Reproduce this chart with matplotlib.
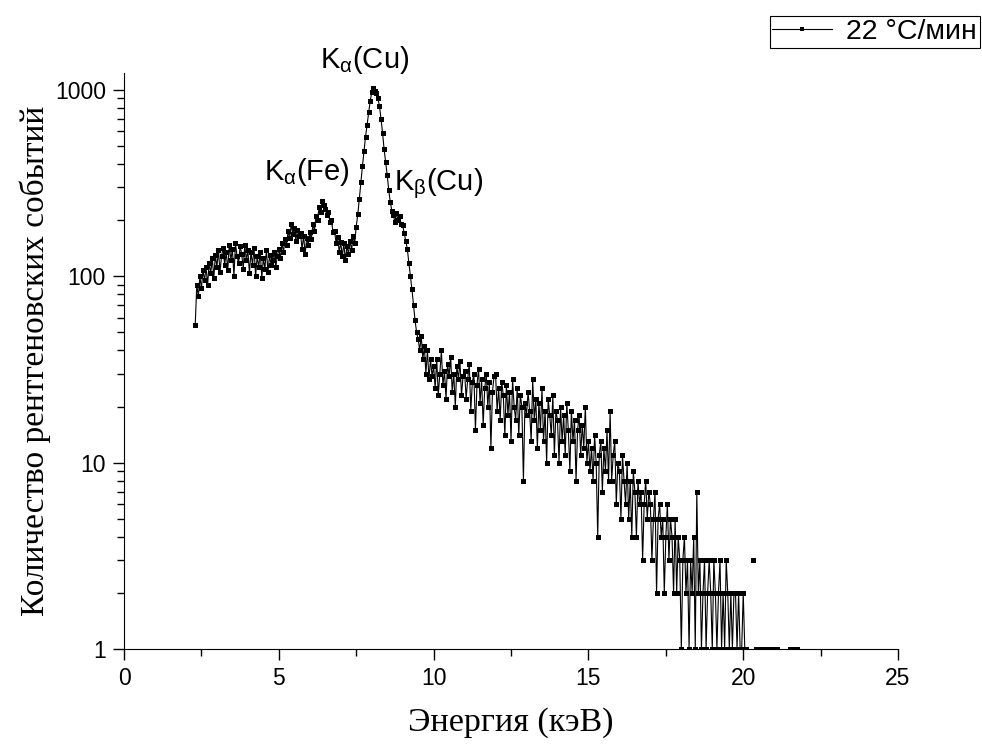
import numpy as np
import matplotlib
matplotlib.use("Agg")
import matplotlib.pyplot as plt
from matplotlib.ticker import FixedLocator, NullFormatter, LogLocator

# channel energies (keV), step 0.05
e_start = 2.30
e_step = 0.05

# counts 2.30 .. 7.45 keV
counts_low = [55, 90, 78, 100, 86, 108, 95, 112, 90, 118,
              104, 125, 98, 130, 112, 138, 106, 128, 142, 115,
              135, 108, 147, 122, 140, 100, 150, 128, 118, 145,
              132, 110, 148, 122, 138, 104, 135, 115, 142, 100,
              128, 112, 135, 98, 125, 110, 138, 105, 130, 115,
              122, 135, 112, 128, 140, 125, 150, 135, 158, 148,
              175, 160, 190, 168, 182, 155, 178, 165, 170, 140,
              165, 132, 160, 148, 172, 158, 190, 175, 210, 200,
              235, 220, 255, 240, 230, 212, 220, 195, 200, 172,
              175, 150, 162, 135, 152, 128, 150, 122, 145, 132,
              155, 138, 165, 150]
# counts 7.50 .. 9.95 keV (Cu K lines)
counts_cu = [185, 215, 260, 320, 390, 470, 560, 650, 760, 870,
             970, 1030, 990, 960, 900, 820, 700, 590, 480, 410,
             350, 290, 250, 225, 212, 195, 218, 200, 210, 190,
             188, 170, 155, 140, 118, 100, 85, 70, 58, 50,
             46, 40, 48, 36, 42, 30, 40, 28, 36, 29]
# counts 10.00 .. 14.95 keV
counts_mid = [33, 25, 36, 23, 30, 40, 26, 31, 22, 34, 29, 37, 24, 30, 20, 33, 28, 35, 23, 29,
              31, 22, 28, 34, 19, 27, 30, 15, 26, 32, 21, 28, 16, 25, 30, 20, 27, 12, 24, 29,
              30, 19, 25, 17, 27, 23, 14, 26, 18, 24, 13, 28, 20, 17, 25, 14, 23, 20, 8, 21,
              18, 24, 19, 13, 28, 17, 22, 12, 21, 15, 25, 13, 19, 10, 22, 18, 14, 23, 11, 19,
              17, 10, 20, 13, 18, 11, 21, 15, 9, 19, 13, 17, 8, 15, 18, 11, 16, 12, 20, 10]
# counts 15.00 .. 21.75 keV
counts_tail = [13, 9, 12, 8, 14, 10, 4, 11, 13, 7, 12, 9, 15, 8, 19, 8, 11, 13, 6, 10,
               9, 5, 11, 8, 6, 10, 5, 8, 4, 9, 7, 4, 8, 6, 7, 3, 6, 8, 5, 7,
               6, 3, 5, 7, 2, 5, 6, 4, 5, 2, 4, 6, 3, 5, 4, 2, 5, 2, 4, 3,
               1, 3, 4, 2, 3, 1, 3, 2, 4, 1, 7, 2, 3, 1, 2, 3, 1, 2, 3, 2,
               1, 3, 2, 1, 2, 3, 1, 2, 1, 3, 2, 1, 2, 1, 2, 2, 1, 2, 1, 1,
               2, 1, 1, 0, 0, 0, 3, 0, 1, 1, 1, 1, 0, 1, 1, 1, 0, 1, 1, 0,
               1, 1, 1, 0, 0, 0, 0, 0, 0, 0, 1, 1, 0, 0, 1, 1]

counts = np.array(counts_low + counts_cu + counts_mid + counts_tail, dtype=float)
energy = np.round(e_start + e_step * np.arange(len(counts)), 2)

labels = ["K$_{\\alpha}$(Cu)", "K$_{\\alpha}$(Fe)", "K$_{\\beta}$(Cu)"]
label_x = [7.78, 5.91, 10.15]
label_y = [1440, 361, 315]

sans = "Liberation Sans"
serif = "Liberation Serif"
plt.rcParams["mathtext.fontset"] = "custom"
plt.rcParams["mathtext.rm"] = sans
plt.rcParams["mathtext.it"] = sans

fig = plt.figure(figsize=(9.82, 7.44), dpi=100)
ax = fig.add_axes([0.1263, 0.1277, 0.7882, 0.7742])

ax.set_yscale("log", nonpositive="mask")
line, = ax.plot(energy, counts, color="black", lw=0.8, marker="s",
                markersize=3.6, markeredgewidth=0, label="22 °C/мин")

ax.set_xlim(0, 25)
ax.set_ylim(1, 1233)

ax.spines["top"].set_visible(False)
ax.spines["right"].set_visible(False)

ax.xaxis.set_major_locator(FixedLocator([0, 5, 10, 15, 20, 25]))
ax.xaxis.set_minor_locator(FixedLocator([2.5, 7.5, 12.5, 17.5, 22.5]))
ax.yaxis.set_major_locator(FixedLocator([1, 10, 100, 1000]))
ax.yaxis.set_minor_locator(LogLocator(base=10, subs=np.arange(2, 10)))
ax.yaxis.set_minor_formatter(NullFormatter())
ax.set_yticklabels(["1", "10", "100", "1000"])
ax.set_xticklabels(["0", "5", "10", "15", "20", "25"])

ax.tick_params(which="major", direction="out", length=8, width=1, labelsize=16.5, pad=5)
ax.tick_params(which="minor", direction="out", length=5, width=1)
for lab in ax.get_xticklabels() + ax.get_yticklabels():
    lab.set_fontfamily(sans)

ax.set_xlabel("Энергия (кэВ)", fontfamily=serif, fontsize=24.5, labelpad=12)
ax.set_ylabel("Количество рентгеновских событий", fontfamily=serif, fontsize=24, labelpad=3)

for t, x, y in zip(labels, label_x, label_y):
    ax.text(x, y, t, fontfamily=sans, fontsize=21, ha="center", va="center")

leg = fig.legend(handles=[line], loc="upper right", bbox_to_anchor=(0.998, 0.978),
                 prop={"family": sans, "size": 20.5}, fancybox=False, framealpha=1,
                 edgecolor="black", borderpad=0.1, handlelength=2.1, handletextpad=0.5,
                 borderaxespad=0, markerscale=0.8)
leg.get_frame().set_linewidth(0.8)

fig.savefig("out.png", dpi=100)
